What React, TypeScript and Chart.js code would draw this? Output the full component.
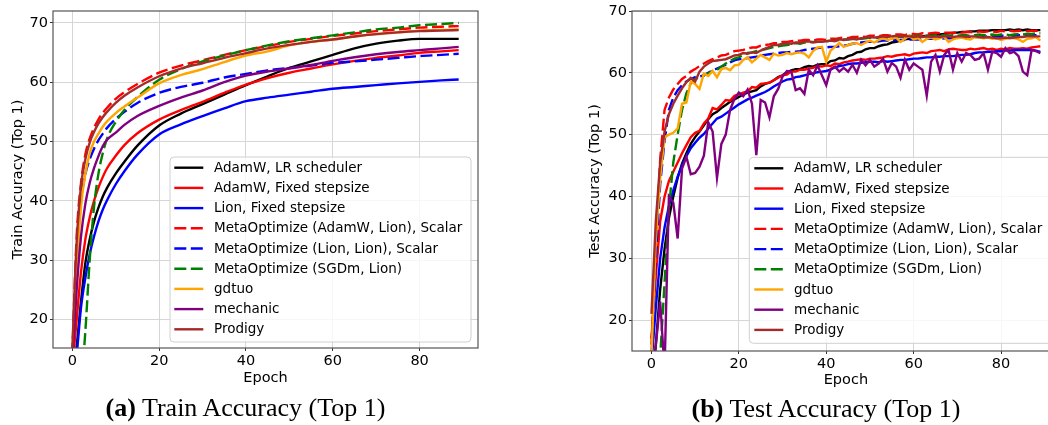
import React, { useEffect, useRef } from 'react';
import { Chart, registerables } from 'chart.js';

Chart.register(...registerables);

// ---- series metadata ----
const seriesLabels = [
  'AdamW, LR scheduler',
  'AdamW, Fixed stepsize',
  'Lion, Fixed stepsize',
  'MetaOptimize (AdamW, Lion), Scalar',
  'MetaOptimize (Lion, Lion), Scalar',
  'MetaOptimize (SGDm, Lion)',
  'gdtuo',
  'mechanic',
  'Prodigy',
];
const seriesColors = ['#000000', '#ff0000', '#0000ff', '#ff0000', '#0000ff', '#008000', '#ffa500', '#800080', '#a52a2a'];
const seriesDashed = [false, false, false, true, true, true, false, false, false];

// ---- axis ticks ----
const xTicks = [0, 20, 40, 60, 80];
const yTicks = [20, 30, 40, 50, 60, 70];

// ---- train accuracy (top 1), sampled epochs ----
const trainEpochs = [0, 1, 2, 3, 4, 5, 6, 7, 8, 10, 12, 15, 20, 25, 30, 35, 40, 45, 50, 55, 60, 65, 70, 75, 80, 85, 89];
const trainAdamWSched = [10, 15.5, 23, 29.5, 33.5, 36.5, 38.8, 40.7, 42.2, 44.6, 46.6, 49.3, 52.7, 54.7, 56.3, 57.9, 59.5, 61.0, 62.4, 63.5, 64.6, 65.7, 66.5, 67.0, 67.3, 67.3, 67.3];
const trainAdamWFixed = [12, 20, 28, 33.5, 37.2, 40, 42.2, 44, 45.5, 47.6, 49.4, 51.4, 53.7, 55.3, 56.7, 58.2, 59.6, 60.7, 61.6, 62.3, 63.0, 63.6, 64.1, 64.5, 64.95, 65.2, 65.4];
const trainLionFixed = [8, 14, 22, 27, 31, 34, 36.5, 38.5, 40.1, 42.8, 45, 47.8, 51.2, 52.9, 54.3, 55.6, 56.8, 57.4, 57.9, 58.4, 58.9, 59.2, 59.5, 59.8, 60.05, 60.3, 60.45];
const trainMetaAdamWLion = [14, 34, 43, 47.8, 50.5, 52.3, 53.7, 54.8, 55.7, 57.2, 58.3, 59.7, 61.6, 62.8, 63.7, 64.6, 65.4, 66.1, 66.8, 67.3, 67.8, 68.2, 68.6, 68.9, 69.2, 69.35, 69.45];
const trainMetaLionLion = [14, 30, 40, 44.5, 47, 48.8, 50.2, 51.3, 52.3, 53.8, 55, 56.5, 58.2, 59.2, 59.9, 60.8, 61.4, 62.0, 62.4, 62.8, 63.25, 63.5, 63.8, 64.1, 64.4, 64.6, 64.8];
const trainMetaSGDmLion = [2, 4, 9, 18, 30, 39, 44.5, 48, 50.5, 53.3, 55.3, 57.5, 60.4, 62.2, 63.5, 64.5, 65.4, 66.2, 66.9, 67.4, 67.9, 68.4, 68.9, 69.2, 69.6, 69.8, 70.0];
const trainGdtuo = [14, 28, 39, 44.5, 48, 50, 51.3, 52.5, 53.4, 54.8, 55.9, 57.4, 59.8, 61.2, 62.2, 63.4, 64.5, 65.2, 66.2, 66.8, 67.2, 67.7, 68.1, 68.4, 68.7, 68.8, 68.9];
const trainMechanic = [13, 25, 34, 39.5, 43, 45.5, 47.5, 49.2, 50.3, 51.5, 52.8, 54.3, 56.0, 57.4, 58.6, 60.0, 61.1, 61.8, 62.3, 62.9, 63.6, 64.2, 64.7, 65.1, 65.4, 65.7, 65.95];
const trainProdigy = [15, 33, 42.5, 47, 49.8, 51.6, 53, 54.1, 55, 56.5, 57.7, 59.1, 61.0, 62.3, 63.2, 64.1, 64.9, 65.7, 66.3, 66.8, 67.2, 67.7, 68.1, 68.4, 68.6, 68.7, 68.8];

// ---- test accuracy (top 1), every epoch ----
const testEpochs = Array.from({ length: 90 }, (_, i) => i);
const testAdamWSched = [
  8, 16, 25, 31.5, 36.5, 40, 43, 45.3, 47, 48.5,
  49.6, 50.5, 51.5, 52.5, 53.3, 53.7, 54.3, 54.8, 55.3, 55.7,
  56.1, 56.5, 56.8, 57.0, 57.2, 57.8, 58.2, 58.4, 58.8, 59.3,
  59.6, 60.1, 60.4, 60.6, 60.6, 60.9, 61.1, 61.0, 61.3, 61.4,
  61.4, 61.9, 62.0, 62.4, 62.3, 62.7, 62.9, 63.3, 63.4, 63.8,
  64.0, 64.0, 64.3, 64.5, 64.6, 64.9, 65.0, 65.2, 65.4, 65.5,
  65.6, 65.8, 65.9, 66.0, 66.1, 66.2, 66.2, 66.3, 66.4, 66.5,
  66.5, 66.6, 66.6, 66.7, 66.7, 66.8, 66.8, 66.8, 66.9, 66.9,
  66.9, 66.9, 67.0, 66.9, 67.0, 66.9, 67.0, 66.9, 66.9, 66.9,
];
const testAdamWFixed = [
  17, 27, 36, 40, 42.5, 44, 45.5, 47, 48.3, 49.6,
  50.3, 50.6, 51.8, 52.6, 54.3, 54.1, 54.8, 55.6, 55.5, 56.3,
  56.5, 56.8, 57.0, 57.7, 57.6, 58.2, 58.3, 58.4, 58.8, 59.2,
  59.6, 59.7, 60.2, 60.2, 60.5, 60.5, 60.7, 60.8, 61.1, 61.0,
  61.2, 61.1, 61.5, 61.4, 61.7, 61.8, 62.0, 62.1, 62.2, 62.1,
  62.3, 62.3, 62.4, 62.5, 62.7, 62.6, 62.8, 62.9, 63.0, 62.8,
  63.1, 63.2, 63.3, 63.2, 63.5, 63.6, 63.7, 63.5, 63.8, 63.9,
  63.8, 63.7, 63.7, 63.9, 63.8, 63.9, 64.0, 63.8, 63.9, 63.7,
  63.9, 63.8, 64.0, 63.9, 63.9, 64.0, 63.9, 64.1, 64.2, 64.3,
];
const testLionFixed = [
  13, 22, 30, 35, 38.5, 41, 43.2, 45, 46.5, 47.8,
  48.7, 49.5, 50.1, 51.0, 51.8, 52.6, 52.9, 53.4, 53.9, 54.4,
  54.9, 55.3, 55.7, 56.0, 56.3, 56.6, 56.9, 57.3, 57.8, 58.2,
  58.6, 58.9, 59.0, 59.3, 59.4, 59.6, 59.8, 59.9, 60.1, 60.2,
  60.3, 60.5, 60.9, 61.1, 61.2, 61.4, 61.5, 61.5, 61.6, 61.7,
  61.8, 61.8, 61.7, 61.9, 61.8, 61.9, 62.0, 62.1, 62.1, 62.2,
  62.3, 62.3, 62.4, 62.5, 62.5, 62.6, 62.6, 62.7, 62.7, 62.7,
  62.8, 62.9, 62.9, 63.0, 63.2, 63.3, 63.3, 63.4, 63.4, 63.5,
  63.5, 63.6, 63.6, 63.7, 63.7, 63.7, 63.7, 63.7, 63.6, 63.4,
];
const testMetaAdamWLion = [
  16, 32, 46, 54, 56, 57.3, 58.2, 59.0, 59.5, 60.2,
  60.6, 61.1, 61.5, 61.9, 62.2, 62.5, 62.8, 62.9, 63.2, 63.5,
  63.6, 63.7, 63.9, 64.1, 64.1, 64.4, 64.5, 64.6, 64.8, 64.8,
  65.0, 65.0, 65.1, 65.2, 65.2, 65.3, 65.3, 65.2, 65.4, 65.4,
  65.3, 65.5, 65.5, 65.6, 65.7, 65.6, 65.8, 65.8, 65.9, 65.8,
  66.0, 66.0, 65.9, 66.1, 66.1, 66.0, 66.2, 66.2, 66.1, 66.3,
  66.3, 66.2, 66.4, 66.3, 66.4, 66.5, 66.4, 66.5, 66.5, 66.4,
  66.6, 66.5, 66.6, 66.6, 66.5, 66.7, 66.6, 66.7, 66.7, 66.6,
  66.8, 66.7, 66.8, 66.7, 66.8, 66.8, 66.7, 66.8, 66.8, 66.8,
];
const testMetaLionLion = [
  14, 30, 42, 49, 54, 56, 57.2, 58, 58.6, 59.0,
  59.3, 59.4, 59.6, 60.0, 60.4, 60.7, 61.0, 61.3, 61.7, 62.0,
  62.2, 62.3, 62.4, 62.5, 62.6, 62.8, 62.9, 63.0, 63.1, 63.2,
  63.3, 63.3, 63.4, 63.4, 63.5, 63.7, 63.8, 63.9, 64.0, 64.1,
  64.1, 64.2, 64.2, 64.3, 64.4, 64.5, 64.7, 64.8, 64.9, 65.0,
  65.0, 65.1, 65.1, 65.2, 65.2, 65.3, 65.3, 65.3, 65.3, 65.4,
  65.4, 65.4, 65.4, 65.5, 65.5, 65.5, 65.5, 65.6, 65.6, 65.6,
  65.7, 65.7, 65.7, 65.8, 65.8, 65.8, 65.8, 65.9, 65.9, 65.9,
  66.0, 66.0, 66.0, 66.0, 66.1, 66.1, 66.1, 66.1, 66.1, 66.1,
];
const testMetaSGDmLion = [
  5, 8, 14, 26, 38, 45.5, 50, 54, 56.7, 58.3,
  59.0, 59.3, 59.6, 59.9, 60.3, 60.5, 61.0, 61.5, 61.9, 62.3,
  62.5, 62.9, 63.2, 63.3, 63.5, 63.7, 63.8, 64.0, 64.2, 64.3,
  64.4, 64.5, 64.6, 64.8, 64.7, 64.9, 64.9, 65.0, 65.0, 65.0,
  65.1, 65.2, 65.2, 65.3, 65.4, 65.4, 65.5, 65.6, 65.5, 65.6,
  65.7, 65.6, 65.7, 65.8, 65.7, 65.8, 65.9, 65.8, 65.9, 66.0,
  65.9, 66.0, 66.0, 65.9, 66.0, 66.1, 66.0, 66.1, 66.0, 66.1,
  66.0, 66.1, 66.1, 66.0, 66.1, 66.2, 66.1, 66.1, 66.2, 66.1,
  66.2, 66.2, 66.1, 66.2, 66.3, 66.2, 66.3, 66.3, 66.4, 66.4,
];
const testGdtuo = [
  14, 33, 43, 49.6, 50.0, 50.3, 51.0, 55.0, 55.2, 58.6,
  58.2, 57.4, 59.9, 59.5, 60.3, 59.3, 60.6, 60.8, 60.4, 61.2,
  61.3, 62.1, 62.5, 61.7, 62.3, 62.9, 62.5, 62.1, 63.1, 62.8,
  62.9, 63.2, 63.0, 63.2, 63.3, 63.1, 62.5, 63.5, 64.1, 64.2,
  61.8, 63.6, 64.2, 64.8, 64.2, 64.5, 64.7, 64.8, 64.5, 64.9,
  65.2, 64.9, 65.3, 65.6, 65.3, 65.5, 65.7, 65.0, 65.5, 66.0,
  65.4, 65.6, 65.0, 65.5, 65.7, 65.4, 65.6, 65.8, 65.0, 65.4,
  65.6, 65.7, 65.5, 65.4, 65.8, 65.7, 65.6, 65.7, 65.5, 65.6,
  65.3, 65.5, 65.7, 65.6, 65.4, 65.0, 65.5, 65.6, 65.8, 65.2,
];
const testMechanic = [
  10, 16, 23, 12, 40, 39, 33.2, 44.5, 46.4, 43.6,
  43.8, 44.8, 46.6, 52, 50.5, 43, 48.5, 50, 54, 55.8,
  56.8, 56.2, 57.3, 55, 46.7, 55.6, 55.2, 52.8, 56.2, 57.4,
  59.4, 60.3, 60.2, 57.2, 57.5, 56.6, 60.5, 59.6, 61.2, 59.6,
  58.0, 60.6, 61.0, 60.2, 60.8, 60.2, 61.3, 60.0, 62.1, 61.2,
  62.1, 61.0, 61.5, 62.3, 60.2, 61.6, 61.0, 59.2, 62.1, 60.5,
  61.5, 61.0, 60.5, 56.3, 61.8, 62.9, 60.2, 62.9, 63.7, 60.5,
  63.2, 61.8, 63.2, 62.9, 62.1, 62.3, 63.2, 60.5, 63.4, 63.2,
  62.6, 64.0, 63.2, 63.4, 62.7, 60.2, 59.6, 63.7, 63.5, 63.2,
];
const testProdigy = [
  21, 36, 45.5, 50.5, 53.3, 55, 56.3, 57.5, 58.5, 59.2,
  58.6, 60.2, 61.0, 61.5, 61.9, 62.0, 62.1, 62.2, 62.5, 62.8,
  62.9, 63.2, 63.1, 63.3, 63.2, 63.6, 63.9, 64.2, 64.5, 64.5,
  64.7, 64.8, 64.7, 64.9, 64.9, 65.0, 65.1, 64.9, 65.0, 65.0,
  65.1, 65.2, 65.1, 65.4, 65.3, 65.4, 65.5, 65.4, 65.6, 65.7,
  65.8, 65.7, 65.8, 65.9, 65.8, 65.9, 66.0, 65.9, 65.95, 65.9,
  65.8, 65.9, 65.8, 65.9, 65.8, 65.9, 65.8, 65.9, 65.9, 65.8,
  65.9, 65.9, 65.8, 65.9, 65.9, 65.8, 65.7, 65.8, 65.7, 65.6,
  65.6, 65.7, 65.6, 65.7, 65.8, 65.8, 65.9, 65.9, 65.9, 65.9,
];

const trainSeries = [
  trainAdamWSched, trainAdamWFixed, trainLionFixed, trainMetaAdamWLion, trainMetaLionLion,
  trainMetaSGDmLion, trainGdtuo, trainMechanic, trainProdigy,
];
const testSeries = [
  testAdamWSched, testAdamWFixed, testLionFixed, testMetaAdamWLion, testMetaLionLion,
  testMetaSGDmLion, testGdtuo, testMechanic, testProdigy,
];

const FONT = 'DejaVu Sans';
const GRID = '#d6d6d6';
const DASH = [12, 4.5];
const LINE_W = 2.4;

// Frame around the plotting area (all four spines).
const framePlugin = {
  id: 'panelFrame',
  afterDatasetsDraw(chart: any) {
    const { ctx, chartArea } = chart;
    ctx.save();
    ctx.strokeStyle = '#555555';
    ctx.lineWidth = 1.2;
    ctx.setLineDash([]);
    ctx.strokeRect(chartArea.left, chartArea.top, chartArea.right - chartArea.left, chartArea.bottom - chartArea.top);
    ctx.restore();
  },
};

// Boxed legend drawn inside the plotting area.
const boxLegendPlugin = {
  id: 'boxLegend',
  afterDraw(chart: any, _args: any, o: any) {
    const { ctx } = chart;
    ctx.save();
    const r = 4;
    const { boxLeft: x, boxTop: y, boxWidth: w, boxHeight: h } = o;
    ctx.beginPath();
    ctx.moveTo(x + r, y);
    ctx.lineTo(x + w - r, y);
    ctx.arcTo(x + w, y, x + w, y + r, r);
    ctx.lineTo(x + w, y + h - r);
    ctx.arcTo(x + w, y + h, x + w - r, y + h, r);
    ctx.lineTo(x + r, y + h);
    ctx.arcTo(x, y + h, x, y + h - r, r);
    ctx.lineTo(x, y + r);
    ctx.arcTo(x, y, x + r, y, r);
    ctx.closePath();
    ctx.fillStyle = 'rgba(255,255,255,0.8)';
    ctx.fill();
    ctx.strokeStyle = '#d0d0d0';
    ctx.lineWidth = 1;
    ctx.stroke();

    ctx.font = `${o.fontSize}px "${FONT}"`;
    ctx.textBaseline = 'middle';
    ctx.textAlign = 'left';
    chart.data.datasets.forEach((ds: any, i: number) => {
      const yy = o.firstRow + i * o.rowGap;
      ctx.beginPath();
      ctx.strokeStyle = ds.borderColor;
      ctx.lineWidth = ds.borderWidth;
      ctx.setLineDash(ds.borderDash || []);
      ctx.moveTo(o.handleX, yy);
      ctx.lineTo(o.handleX + o.handleLen, yy);
      ctx.stroke();
      ctx.setLineDash([]);
      ctx.fillStyle = '#000000';
      ctx.fillText(ds.label, o.textX, yy + 0.5);
    });
    ctx.restore();
  },
};

interface PanelProps {
  epochs: number[];
  series: number[][];
  smooth: boolean;
  yMin: number;
  yMax: number;
  yTitle: string;
  left: number;
  width: number;
  height: number;
  padRight: number;
  yAxisWidth: number;
  yTitlePad: number;
  xTitlePad: number;
  legend: any;
}

function AccuracyPanel(p: PanelProps) {
  const ref = useRef<HTMLCanvasElement | null>(null);

  useEffect(() => {
    if (!ref.current) return;
    const tickFont = { family: FONT, size: 14.5 };
    const chart = new Chart(ref.current, {
      type: 'line',
      data: {
        datasets: p.series.map((vals, i) => ({
          label: seriesLabels[i],
          data: p.epochs.map((e, j) => ({ x: e, y: vals[j] })),
          borderColor: seriesColors[i],
          backgroundColor: seriesColors[i],
          borderWidth: LINE_W,
          borderDash: seriesDashed[i] ? DASH : [],
          pointRadius: 0,
          fill: false,
          tension: 0,
          cubicInterpolationMode: p.smooth ? 'monotone' : 'default',
          order: seriesLabels.length - i,
          clip: 0,
        })),
      },
      options: {
        responsive: false,
        animation: false,
        events: [],
        layout: { padding: { top: 11, right: p.padRight, left: 0, bottom: 0 } },
        plugins: {
          legend: { display: false },
          tooltip: { enabled: false },
          boxLegend: p.legend,
        } as any,
        scales: {
          x: {
            type: 'linear',
            min: -4.45,
            max: 93.45,
            afterBuildTicks: (s: any) => {
              s.ticks = xTicks.map((v) => ({ value: v }));
            },
            afterFit: (s: any) => {
              s.height = 52;
            },
            grid: { color: GRID, lineWidth: 1, drawTicks: true, tickLength: 3, tickColor: '#333333' },
            border: { display: false },
            ticks: { color: '#000000', font: tickFont, padding: 2, maxRotation: 0, autoSkip: false },
            title: {
              display: true,
              text: 'Epoch',
              color: '#000000',
              font: tickFont,
              padding: { top: 0, bottom: p.xTitlePad },
            },
          },
          y: {
            type: 'linear',
            min: p.yMin,
            max: p.yMax,
            afterBuildTicks: (s: any) => {
              s.ticks = yTicks.map((v) => ({ value: v }));
            },
            afterFit: (s: any) => {
              s.width = p.yAxisWidth;
            },
            grid: { color: GRID, lineWidth: 1, drawTicks: true, tickLength: 3, tickColor: '#333333' },
            border: { display: false },
            ticks: { color: '#000000', font: tickFont, padding: 2, autoSkip: false },
            title: {
              display: true,
              text: p.yTitle,
              color: '#000000',
              font: tickFont,
              padding: { top: p.yTitlePad, bottom: 0 },
            },
          },
        },
      } as any,
      plugins: [framePlugin, boxLegendPlugin],
    });
    return () => chart.destroy();
  }, []);

  return (
    <canvas
      ref={ref}
      width={p.width}
      height={p.height}
      style={{ position: 'absolute', left: p.left, top: 0, width: p.width, height: p.height }}
    />
  );
}

const captionStyle: React.CSSProperties = {
  position: 'absolute',
  fontFamily: '"Liberation Serif", "Times New Roman", serif',
  fontSize: 26,
  lineHeight: '26px',
  whiteSpace: 'nowrap',
  color: '#000000',
  transform: 'translateX(-50%)',
};

export default function App() {
  return (
    <div
      style={{
        position: 'fixed',
        left: 0,
        top: 0,
        width: 1048,
        height: 425,
        overflow: 'hidden',
        background: '#ffffff',
      }}
    >
      <AccuracyPanel
        epochs={trainEpochs}
        series={trainSeries}
        smooth={true}
        yMin={15.2}
        yMax={72}
        yTitle="Train Accuracy (Top 1)"
        left={0}
        width={500}
        height={400}
        padRight={22}
        yAxisWidth={53}
        yTitlePad={9.6}
        xTitlePad={13.3}
        legend={{
          boxLeft: 170,
          boxTop: 157,
          boxWidth: 301,
          boxHeight: 185,
          handleX: 174.3,
          handleLen: 29,
          textX: 214,
          firstRow: 167.7,
          rowGap: 20.2,
          fontSize: 13.5,
        }}
      />
      <AccuracyPanel
        epochs={testEpochs}
        series={testSeries}
        smooth={false}
        yMin={15}
        yMax={70}
        yTitle="Test Accuracy (Top 1)"
        left={580}
        width={500}
        height={403}
        padRight={20.2}
        yAxisWidth={52}
        yTitlePad={6.3}
        xTitlePad={14.3}
        legend={{
          boxLeft: 169.3,
          boxTop: 157.3,
          boxWidth: 305,
          boxHeight: 186,
          handleX: 174.3,
          handleLen: 29,
          textX: 214,
          firstRow: 168.3,
          rowGap: 20.2,
          fontSize: 13.5,
        }}
      />
      <div style={{ ...captionStyle, left: 245.5, top: 394.7 }}>
        <b>(a)</b> Train Accuracy (Top 1)
      </div>
      <div style={{ ...captionStyle, left: 826, top: 396.2 }}>
        <b>(b)</b> Test Accuracy (Top 1)
      </div>
    </div>
  );
}
